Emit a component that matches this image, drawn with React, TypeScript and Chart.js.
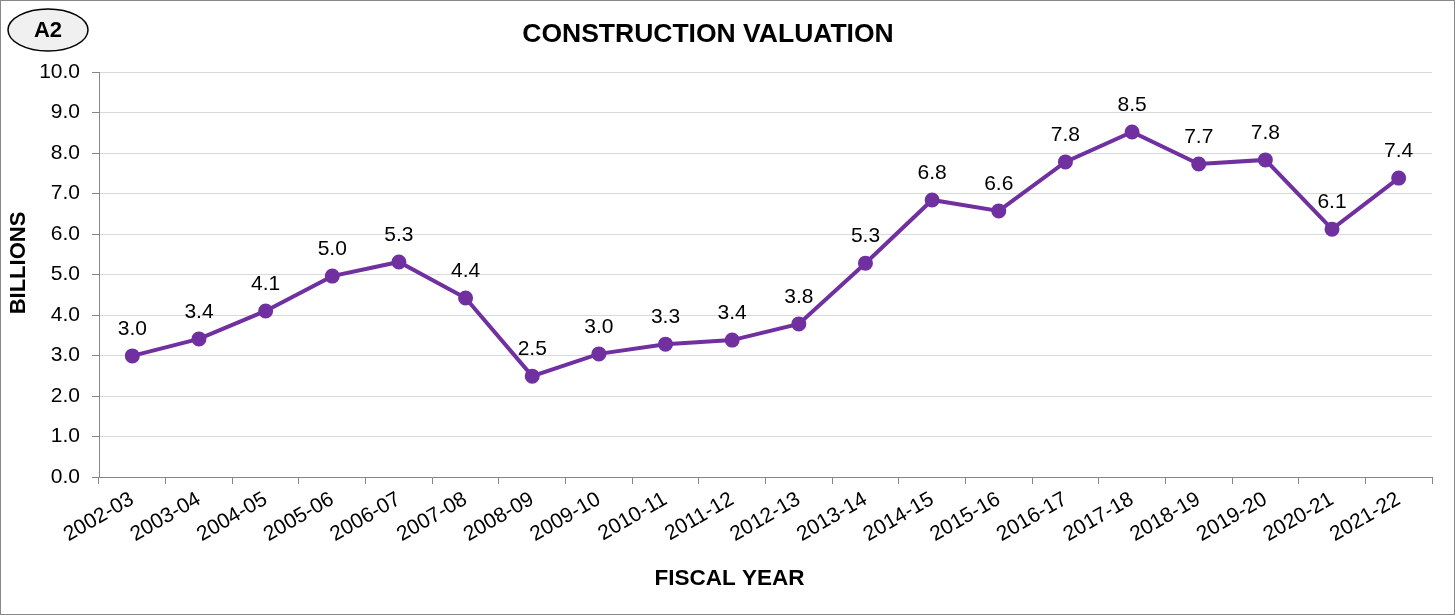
import React, { useEffect, useRef } from "react";
import { Chart, registerables } from "chart.js";

Chart.register(...registerables);

const categories = [
  "2002-03", "2003-04", "2004-05", "2005-06", "2006-07", "2007-08", "2008-09",
  "2009-10", "2010-11", "2011-12", "2012-13", "2013-14", "2014-15", "2015-16",
  "2016-17", "2017-18", "2018-19", "2019-20", "2020-21", "2021-22",
];
const valuation = [
  2.99, 3.41, 4.1, 4.96, 5.31, 4.42, 2.49, 3.04, 3.28, 3.38, 3.78, 5.28, 6.84,
  6.57, 7.78, 8.52, 7.73, 7.83, 6.12, 7.38,
];
const chartTitle = "CONSTRUCTION VALUATION";
const badgeText = "A2";
const yTitle = "BILLIONS";
const xTitle = "FISCAL YEAR";

const FONT = "'Liberation Sans', Arial, sans-serif";

const decorPlugin = {
  id: "decor",
  afterDraw(chart: any) {
    const ctx = chart.ctx;
    ctx.save();
    // outer border
    ctx.strokeStyle = "#888888";
    ctx.lineWidth = 1;
    ctx.strokeRect(0.5, 0.5, chart.width - 1, chart.height - 1);
    // badge
    ctx.beginPath();
    ctx.ellipse(48, 30, 40, 21, 0, 0, Math.PI * 2);
    ctx.fillStyle = "#f0f0f0";
    ctx.fill();
    ctx.lineWidth = 1.5;
    ctx.strokeStyle = "#000";
    ctx.stroke();
    ctx.fillStyle = "#000";
    ctx.font = `bold 22px ${FONT}`;
    ctx.textAlign = "center";
    ctx.textBaseline = "middle";
    ctx.fillText(badgeText, 48, 31);
    // title
    ctx.font = `bold 26.5px ${FONT}`;
    ctx.fillText(chartTitle, 708, 35);
    // axis titles
    ctx.font = `bold 22.5px ${FONT}`;
    ctx.fillText(xTitle, 729.5, 579);
    ctx.save();
    ctx.translate(19, 263);
    ctx.rotate(-Math.PI / 2);
    ctx.font = `bold 22px ${FONT}`;
    ctx.fillText(yTitle, 0, 0);
    ctx.restore();
    // data labels
    const meta = chart.getDatasetMeta(0);
    ctx.font = `21px ${FONT}`;
    meta.data.forEach((pt: any, i: number) => {
      const v = chart.data.datasets[0].data[i] as number;
      ctx.fillText(v.toFixed(1), pt.x, pt.y - 27);
    });
    ctx.restore();
  },
};

export default function App() {
  const ref = useRef<HTMLCanvasElement>(null);
  useEffect(() => {
    document.body.style.margin = "0";
    const chart = new Chart(ref.current!, {
      type: "line",
      data: {
        labels: categories,
        datasets: [
          {
            data: valuation,
            borderColor: "#7030A0",
            backgroundColor: "#7030A0",
            borderWidth: 4,
            pointRadius: 5.5,
            pointBackgroundColor: "#7030A0",
            pointBorderColor: "#7030A0",
            tension: 0,
          },
        ],
      },
      options: {
        responsive: false,
        animation: false,
        layout: { padding: { left: 0, right: 23, top: 72, bottom: 22 } },
        plugins: {
          legend: { display: false },
          title: { display: false },
          tooltip: { enabled: false },
        },
        scales: {
          x: {
            type: "category",
            offset: true,
            grid: {
              offset: true,
              drawOnChartArea: false,
              drawTicks: true,
              tickLength: 7,
              tickColor: "#868686",
              color: "#868686",
            },
            border: { color: "#868686", width: 1 },
            ticks: {
              color: "#000",
              font: { family: FONT, size: 21 },
              minRotation: 30,
              maxRotation: 30,
              autoSkip: false,
              padding: 3,
            },
            afterFit(scale: any) {
              scale.height = 116;
            },
          },
          y: {
            min: 0,
            max: 10,
            grid: {
              color: "#d9d9d9",
              tickColor: "#868686",
              tickLength: 7,
            },
            border: { color: "#868686", width: 1 },
            ticks: {
              stepSize: 1,
              color: "#000",
              font: { family: FONT, size: 21 },
              padding: 12,
              callback: (v: any) => Number(v).toFixed(1),
            },
            afterFit(scale: any) {
              scale.width = 99;
            },
          },
        },
      },
      plugins: [decorPlugin],
    });
    return () => chart.destroy();
  }, []);
  return (
    <div style={{ width: 1455, height: 615, position: "relative" }}>
      <canvas ref={ref} width={1455} height={615} style={{ display: "block" }} />
    </div>
  );
}
